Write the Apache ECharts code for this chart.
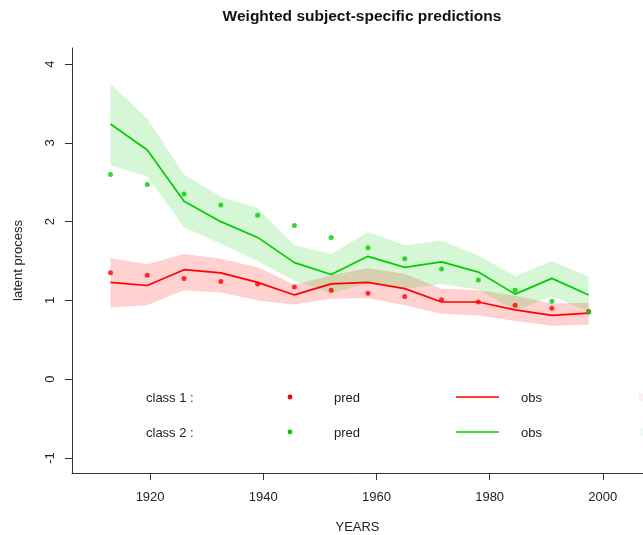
<!DOCTYPE html>
<html>
<head>
<meta charset="utf-8">
<script src="https://cdn.jsdelivr.net/npm/echarts@6/dist/echarts.min.js"></script>
<style>html,body{margin:0;padding:0;background:#fff}#c{width:643px;height:535px}</style>
</head>
<body>
<div id="c"></div>
<script>
var years = [1913, 1919.5, 1926, 1932.5, 1939, 1945.5, 1952, 1958.5, 1965, 1971.5, 1978, 1984.5, 1991, 1997.5];
var class1Pred = [1.35, 1.32, 1.28, 1.24, 1.21, 1.17, 1.13, 1.09, 1.05, 1.01, 0.98, 0.94, 0.90, 0.86];
var class2Pred = [2.60, 2.47, 2.35, 2.21, 2.08, 1.95, 1.80, 1.67, 1.53, 1.40, 1.26, 1.13, 0.99, 0.85];
var class1Obs = [1.23, 1.19, 1.39, 1.35, 1.23, 1.07, 1.21, 1.23, 1.15, 0.98, 0.98, 0.88, 0.81, 0.84];
var class1Upper = [1.54, 1.46, 1.59, 1.53, 1.42, 1.20, 1.32, 1.41, 1.34, 1.15, 1.13, 1.06, 0.96, 0.97];
var class1Lower = [0.91, 0.94, 1.13, 1.10, 1.00, 0.95, 1.02, 1.03, 0.94, 0.83, 0.81, 0.74, 0.68, 0.69];
var class2Obs = [3.24, 2.91, 2.26, 2.00, 1.80, 1.48, 1.33, 1.56, 1.42, 1.49, 1.36, 1.08, 1.28, 1.07];
var class2Upper = [3.75, 3.31, 2.60, 2.32, 2.17, 1.70, 1.59, 1.87, 1.70, 1.76, 1.57, 1.31, 1.50, 1.30];
var class2Lower = [2.72, 2.57, 1.93, 1.72, 1.50, 1.25, 1.09, 1.22, 1.15, 1.21, 1.14, 0.87, 1.05, 0.86];
var xTicks = [1920, 1940, 1960, 1980, 2000];
var yTicks = [-1, 0, 1, 2, 3, 4];

var RED = '#ff0000', GREEN = '#00cd00';
var FONT = '"Liberation Sans", Arial, sans-serif';

function pairs(vals) { return years.map(function (y, i) { return [y, vals[i]]; }); }
function bandData(lo, hi) { return years.map(function (y, i) { return [y, lo[i], hi[i]]; }); }

function bandSeries(lo, hi, fill, z) {
  return {
    type: 'custom', data: bandData(lo, hi), z: z, silent: true, clip: true,
    encode: {x: 0, y: [1, 2]},
    renderItem: function (params, api) {
      if (params.dataIndex !== 0) return null;
      var pts = [];
      for (var i = 0; i < years.length; i++) pts.push(api.coord([years[i], hi[i]]));
      for (var j = years.length - 1; j >= 0; j--) pts.push(api.coord([years[j], lo[j]]));
      return {type: 'polygon', shape: {points: pts}, style: {fill: fill}};
    }
  };
}

var chart = echarts.init(document.getElementById('c'), null, {renderer: 'canvas'});
chart.setOption({
  animation: false,
  backgroundColor: '#ffffff',
  grid: {left: 72, right: 0, top: 48, bottom: 62, containLabel: false, outerBoundsMode: 'none'},
  xAxis: {
    type: 'value', min: 1906.2, max: 2007.1,
    name: 'YEARS', nameLocation: 'middle', nameGap: 48,
    nameTextStyle: {fontFamily: FONT, fontSize: 13, color: '#222'},
    axisLine: {show: true, onZero: false, lineStyle: {color: '#333', width: 1}},
    axisTick: {show: true, customValues: xTicks, length: 7, lineStyle: {color: '#333'}},
    axisLabel: {customValues: xTicks, margin: 18, fontFamily: FONT, fontSize: 13, color: '#222',
      formatter: function (v) { return String(v); }},
    splitLine: {show: false}
  },
  yAxis: {
    type: 'value', min: -1.19, max: 4.204,
    name: 'latent process', nameLocation: 'middle', nameGap: 47, nameRotate: 90,
    nameTextStyle: {fontFamily: FONT, fontSize: 13, color: '#222'},
    axisLine: {show: true, onZero: false, lineStyle: {color: '#333', width: 1}},
    axisTick: {show: true, customValues: yTicks, length: 7, lineStyle: {color: '#333'}},
    axisLabel: {customValues: yTicks, rotate: 90, margin: 15, fontFamily: FONT, fontSize: 13, color: '#222',
      formatter: function (v) { return String(v); }},
    splitLine: {show: false}
  },
  series: [
    bandSeries(class1Lower, class1Upper, 'rgba(255,0,0,0.18)', 1),
    bandSeries(class2Lower, class2Upper, 'rgba(0,205,0,0.16)', 2),
    {type: 'line', name: 'class 1 obs', data: pairs(class1Obs), symbol: 'none', lineStyle: {color: RED, width: 1.7}, z: 3},
    {type: 'line', name: 'class 2 obs', data: pairs(class2Obs), symbol: 'none', lineStyle: {color: GREEN, width: 1.7}, z: 3},
    {type: 'scatter', name: 'class 1 pred', data: pairs(class1Pred), symbolSize: 5, itemStyle: {color: RED}, z: 4},
    {type: 'scatter', name: 'class 2 pred', data: pairs(class2Pred), symbolSize: 5, itemStyle: {color: GREEN}, z: 4}
  ],
  graphic: [
    {type: 'text', x: 362, y: 17, style: {text: 'Weighted subject-specific predictions', font: 'bold 15.5px ' + FONT, fill: '#111', textAlign: 'center', textVerticalAlign: 'middle'}},
    {type: 'text', x: 146, y: 398, style: {text: 'class 1 :', font: '13px ' + FONT, fill: '#222', textVerticalAlign: 'middle'}},
    {type: 'text', x: 146, y: 433, style: {text: 'class 2 :', font: '13px ' + FONT, fill: '#222', textVerticalAlign: 'middle'}},
    {type: 'circle', shape: {cx: 290, cy: 397, r: 2.4}, style: {fill: RED}},
    {type: 'circle', shape: {cx: 290, cy: 432, r: 2.4}, style: {fill: GREEN}},
    {type: 'text', x: 334, y: 398, style: {text: 'pred', font: '13px ' + FONT, fill: '#222', textVerticalAlign: 'middle'}},
    {type: 'text', x: 334, y: 433, style: {text: 'pred', font: '13px ' + FONT, fill: '#222', textVerticalAlign: 'middle'}},
    {type: 'line', shape: {x1: 456, y1: 397, x2: 499, y2: 397}, style: {stroke: RED, lineWidth: 1.7}},
    {type: 'line', shape: {x1: 456, y1: 432, x2: 499, y2: 432}, style: {stroke: GREEN, lineWidth: 1.7}},
    {type: 'text', x: 521, y: 398, style: {text: 'obs', font: '13px ' + FONT, fill: '#222', textVerticalAlign: 'middle'}},
    {type: 'text', x: 521, y: 433, style: {text: 'obs', font: '13px ' + FONT, fill: '#222', textVerticalAlign: 'middle'}},
    {type: 'rect', shape: {x: 639, y: 393, width: 8, height: 8}, style: {fill: 'rgba(255,0,0,0.06)'}},
    {type: 'rect', shape: {x: 639, y: 428, width: 8, height: 8}, style: {fill: 'rgba(0,205,0,0.06)'}}
  ]
});
</script>
</body>
</html>
